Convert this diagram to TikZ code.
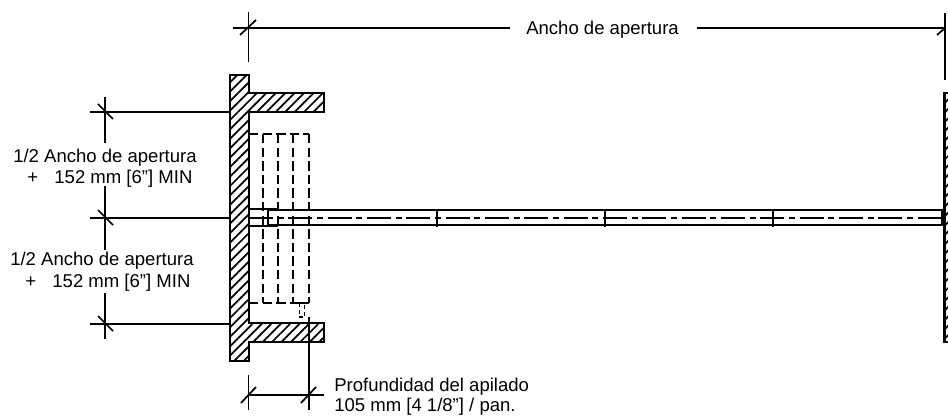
\documentclass[tikz,border=0pt]{standalone}
\usepackage{fontspec}
\setmainfont{Liberation Sans}
\usetikzlibrary{patterns.meta}
\tikzstyle{dim} = [line width=1.3pt]
\tikzstyle{cut} = [line width=1.8pt,pattern={Lines[angle=45,distance=5pt,line width=1.3pt]}]
\tikzstyle{panel} = [line width=1.4pt,dash pattern=on 7pt off 3.2pt]
\tikzstyle{track} = [line width=1.15pt]
\tikzstyle{axis} = [line width=1.15pt,dash pattern=on 18pt off 3.5pt on 4.5pt off 3.5pt]
\tikzstyle{label} = [inner sep=0pt,anchor=base west,font=\fontsize{13.9}{16}\selectfont]

\begin{document}
\begin{tikzpicture}[x=0.75pt,y=-0.75pt]
    \useasboundingbox (0,0) rectangle (948,416);

    % Left jamb
    \draw[cut] (230,75) -- (249,75) -- (249,93) -- (324,93) -- (324,112) -- (249,112) -- (249,323)
        -- (324,323) -- (324,342) -- (249,342) -- (249,361) -- (230,361) -- cycle;

    % Right jamb
    \draw[cut] (944.5,93) rectangle (958,342);

    % Stacked panels
    \foreach \x in {263,278,293,309} {
        \draw[panel] (\x,134) -- (\x,303);
    }
    \draw[panel] (249,134) -- (309,134);
    \draw[panel] (249,303) -- (293,303);
    \draw[line width=1.2pt] (293,303) -- (309,303);
    \draw[line width=1.2pt,dash pattern=on 3pt off 2pt] (299.5,303) -- (299.5,317) -- (304.5,317) -- (304.5,303);

    % Track and panel
    \draw[line width=1.5pt] (249,209) -- (278,209);
    \draw[line width=1.5pt] (249,226) -- (278,226);
    \draw[line width=1.5pt] (268,209) -- (268,226);
    \draw[track] (268,210) rectangle (942,225);
    \foreach \x in {437,605,773} {
        \draw[track] (\x,210) -- (\x,227);
    }
    \draw[axis] (249,218) -- (944,218);

    % Width dimension
    \coordinate (topa) at (233,28);
    \coordinate (topb) at (945,28);
    \node[label] (width) at (526,35) {Ancho de apertura};
    \draw[dim] (topa) -- (510,28);
    \draw[dim] (697,28) -- (topb);
    \draw[dim] (248.5,12) -- (248.5,62);
    \draw[dim] (240,35) -- (256,20);
    \draw[dim] (945,13) -- (945,80);
    \draw[dim] (937,35) -- (945,28);

    % Half width dimensions
    \foreach \y in {112,218,324} {
        \draw[dim] (90,\y) -- (230,\y);
        \draw[dim] (98,\y-8) -- (113,\y+7);
    }
    \draw[dim] (105,97) -- (105,143);
    \draw[dim] (105,186) -- (105,250);
    \draw[dim] (105,293) -- (105,339);

    \node[label] (halfa) at (13,163) {1/2 Ancho de apertura};
    \node[label] (suma) at (27,184) {+\hspace{0.88em}152 mm [6"] MIN};
    \node[label] (halfb) at (10,266) {1/2 Ancho de apertura};
    \node[label] (sumb) at (25,287) {+\hspace{0.88em}152 mm [6"] MIN};

    % Stack depth dimension
    \draw[dim] (248,395) -- (324,395);
    \draw[dim] (248.5,375) -- (248.5,410);
    \draw[dim] (309,317) -- (309,410);
    \draw[dim] (241,403) -- (256,387);
    \draw[dim] (301,403) -- (316,387);
    \node[label] (deptha) at (334,391) {Profundidad del apilado};
    \node[label] (depthb) at (334,411) {105 mm [4 1/8"] / pan.};

\end{tikzpicture}
\end{document}
